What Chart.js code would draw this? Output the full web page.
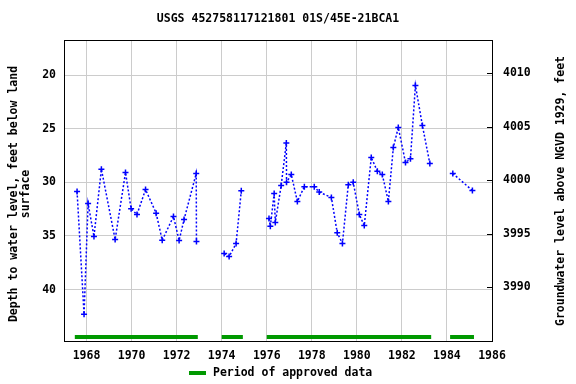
<!DOCTYPE html>
<html lang="en">
<head>
    <meta charset="UTF-8">
    <title>USGS 452758117121801 01S/45E-21BCA1</title>
    <script src="https://cdn.jsdelivr.net/npm/chart.js"></script>
    <style>
        body {
            margin: 0;
            padding: 0;
            background: #fff;
        }
        #wrap {
            width: 576px;
            height: 384px;
            position: relative;
        }
    </style>
</head>
<body>
    <div id="wrap"><canvas id="gwChart"></canvas></div>

    <script>
        // measurement dates (decimal years) and depth below land surface (ft); null = gap in record
        const years = [
            1967.58, 1967.89, 1968.07, 1968.33, 1968.66, 1969.27, 1969.73, 1969.98, 1970.24,
            1970.62, 1971.09, 1971.36, 1971.86, 1972.11, 1972.33, 1972.87, 1972.88, 1973.5,
            1974.11, 1974.33, 1974.64, 1974.87, 1975.5,
            1976.10, 1976.16, 1976.33, 1976.38, 1976.64, 1976.87, 1976.88, 1977.09, 1977.36, 1977.67,
            1978.11, 1978.33, 1978.87, 1979.13, 1979.36, 1979.62, 1979.84, 1980.11, 1980.33, 1980.64,
            1980.91, 1981.13, 1981.40, 1981.62, 1981.84, 1982.16, 1982.38, 1982.60, 1982.91, 1983.24,
            1983.7, 1984.26, 1985.13
        ];
        const depths = [
            30.85, 42.3, 31.97, 35.05, 28.77, 35.33, 29.08, 32.47, 33.0,
            30.67, 32.87, 35.4, 33.18, 35.42, 33.46, 29.17, 35.52, null,
            36.64, 36.92, 35.7, 30.79, null,
            33.37, 34.1, 31.04, 33.74, 30.3, 26.34, 30.0, 29.27, 31.79, 30.4,
            30.4, 30.91, 31.41, 34.71, 35.7, 30.23, 30.0, 33.0, 34.03, 27.68,
            28.96, 29.27, 31.79, 26.75, 24.88, 28.15, 27.8, 20.97, 24.7, 28.24,
            null, 29.17, 30.76
        ];

        // periods of approved data
        const approvedStart = [1967.48, 1974.0, 1976.0, 1984.14];
        const approvedEnd = [1972.94, 1974.94, 1983.3, 1985.2];

        const xTicks = [1968, 1970, 1972, 1974, 1976, 1978, 1980, 1982, 1984, 1986];
        const depthTicks = [20, 25, 30, 35, 40];
        const elevTicks = [3990, 3995, 4000, 4005, 4010];

        const landSurface = 4029.8;
        const depthMin = 16.73;
        const depthMax = 44.79;
        const approvedLevel = 44.41;

        const font = { family: 'DejaVu Sans Mono', size: 11.5, weight: 'bold' };
        const fontCss = 'bold 11.5px "DejaVu Sans Mono"';

        const points = years.map((x, i) => ({ x: x, y: depths[i] }));

        const approvedPts = [];
        approvedStart.forEach((s, i) => {
            approvedPts.push({ x: s, y: approvedLevel });
            approvedPts.push({ x: approvedEnd[i], y: approvedLevel });
            if (i < approvedStart.length - 1) {
                approvedPts.push({ x: (approvedEnd[i] + approvedStart[i + 1]) / 2, y: null });
            }
        });

        const decorations = {
            id: 'decorations',
            afterDraw(chart) {
                const ctx = chart.ctx;
                const a = chart.chartArea;
                ctx.save();

                // right axis tick marks
                const y2 = chart.scales.y2;
                ctx.strokeStyle = '#000';
                ctx.lineWidth = 1;
                elevTicks.forEach(v => {
                    const py = Math.round(y2.getPixelForValue(v)) + 0.5;
                    ctx.beginPath();
                    ctx.moveTo(a.right - 5, py);
                    ctx.lineTo(a.right, py);
                    ctx.stroke();
                });

                // plot frame
                ctx.strokeStyle = '#000';
                ctx.lineWidth = 1;
                ctx.strokeRect(Math.round(a.left) + 0.5, Math.round(a.top) + 0.5,
                    Math.round(a.right - a.left), Math.round(a.bottom - a.top));

                ctx.fillStyle = '#000';
                ctx.font = fontCss;
                ctx.textAlign = 'center';
                ctx.textBaseline = 'middle';

                // title
                ctx.fillText('USGS 452758117121801 01S/45E-21BCA1', 278, 19);

                // left axis title
                ctx.save();
                ctx.translate(14, 194);
                ctx.rotate(-Math.PI / 2);
                ctx.fillText('Depth to water level, feet below land', 0, 0);
                ctx.fillText('surface', 0, 12);
                ctx.restore();

                // right axis title
                ctx.save();
                ctx.translate(561, 191);
                ctx.rotate(-Math.PI / 2);
                ctx.fillText('Groundwater level above NGVD 1929, feet', 0, 0);
                ctx.restore();

                // legend
                ctx.fillStyle = '#009900';
                ctx.fillRect(189, 371, 17, 4);
                ctx.fillStyle = '#000';
                ctx.textAlign = 'left';
                ctx.fillText('Period of approved data', 213, 373);

                ctx.restore();
            }
        };

        new Chart(document.getElementById('gwChart'), {
            type: 'line',
            data: {
                datasets: [{
                    data: points,
                    borderColor: '#0000ff',
                    borderWidth: 1.5,
                    borderDash: [2, 2],
                    pointStyle: 'cross',
                    pointRadius: 3,
                    pointBorderWidth: 1.5,
                    pointBorderColor: '#0000ff',
                    fill: false,
                    tension: 0,
                    spanGaps: false
                }, {
                    data: approvedPts,
                    borderColor: '#009900',
                    borderWidth: 4,
                    borderCapStyle: 'butt',
                    pointRadius: 0,
                    fill: false,
                    spanGaps: false
                }]
            },
            options: {
                responsive: true,
                maintainAspectRatio: false,
                animation: false,
                layout: { padding: { top: 40, left: 0, right: 0, bottom: 0 } },
                plugins: {
                    legend: { display: false },
                    title: { display: false },
                    tooltip: { enabled: false }
                },
                scales: {
                    x: {
                        type: 'linear',
                        min: 1967,
                        max: 1986,
                        afterBuildTicks: s => { s.ticks = xTicks.map(v => ({ value: v })); },
                        afterFit: s => { s.height = 43; },
                        grid: { color: '#cccccc', drawTicks: false },
                        border: { display: false },
                        ticks: {
                            font: font,
                            color: '#000',
                            padding: 8,
                            maxRotation: 0,
                            autoSkip: false,
                            callback: v => String(v)
                        }
                    },
                    y: {
                        position: 'left',
                        reverse: true,
                        min: depthMin,
                        max: depthMax,
                        afterBuildTicks: s => { s.ticks = depthTicks.map(v => ({ value: v })); },
                        afterFit: s => { s.width = 64; },
                        grid: { color: '#cccccc', drawTicks: false },
                        border: { display: false },
                        ticks: { font: font, color: '#000', padding: 8, callback: v => String(v) }
                    },
                    y2: {
                        position: 'right',
                        min: landSurface - depthMax,
                        max: landSurface - depthMin,
                        afterBuildTicks: s => { s.ticks = elevTicks.map(v => ({ value: v })); },
                        afterFit: s => { s.width = 84; },
                        grid: { display: false, drawTicks: false },
                        border: { display: false },
                        ticks: { font: font, color: '#000', padding: 11, callback: v => String(v) }
                    }
                }
            },
            plugins: [decorations]
        });
    </script>
</body>
</html>
